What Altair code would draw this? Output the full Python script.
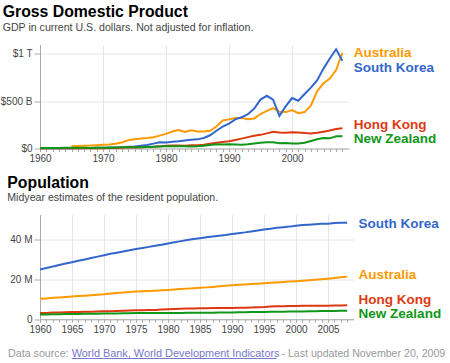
import altair as alt
import pandas as pd

FONT = "Liberation Sans, Arial, Helvetica, sans-serif"

years = list(range(1960, 2009))
countries = ["Australia", "South Korea", "Hong Kong", "New Zealand"]
colors = ["#ff9900", "#3366cc", "#dc3912", "#109618"]

# GDP, billions of current US$
gdp_australia = [None, None, None, None, None,
                 24, 26, 29, 31, 35, 39, 43, 50, 63, 88, 97, 106, 110, 120, 136,
                 155, 180, 195, 176, 192, 179, 180, 188, 232, 296, 308, 322, 322, 309, 318,
                 365, 398, 428, 390, 385, 407, 373, 385, 455, 608, 690, 740, 830, 1013]
gdp_korea = [3.9, 2.4, 2.8, 3.9, 3.5, 3.1, 3.8, 4.7, 5.9, 7.5, 8.9, 9.8, 10.7, 13.7, 19.2,
             21.4, 29.0, 37.6, 51.4, 64.8, 63.7, 71.0, 76.2, 84.9, 93.2, 96.6, 111.3, 140.0,
             187.4, 230.7, 263.8, 308.2, 329.9, 362.1, 423.4, 517.1, 557.6, 516.3, 345.4,
             445.4, 533.4, 504.6, 575.9, 643.8, 722.0, 844.9, 951.8, 1049.2, 929.1]
gdp_hongkong = [1.3, 1.4, 1.6, 1.8, 2.0, 2.3, 2.5, 2.6, 2.7, 3.2, 3.8, 4.5, 5.7, 8.0, 9.3,
                10.0, 12.9, 15.7, 18.3, 22.5, 28.9, 31.0, 32.3, 29.9, 33.5, 35.0, 40.6, 50.6,
                59.7, 68.8, 76.9, 88.9, 104.3, 120.4, 135.8, 144.2, 159.7, 177.4, 168.9,
                165.8, 171.7, 169.4, 163.8, 158.6, 166.0, 177.8, 190.0, 207.1, 215.4]
gdp_newzealand = [5.5, 5.8, 6.0, 6.4, 6.9, 7.3, 7.8, 7.4, 6.3, 6.8, 6.9, 8.1, 9.6, 12.2, 13.7,
                  13.9, 13.7, 15.4, 18.1, 20.3, 23.3, 24.2, 24.0, 23.2, 22.4, 24.4, 28.1, 36.0,
                  44.2, 43.5, 45.7, 42.6, 40.6, 44.6, 52.0, 60.1, 66.4, 66.0, 55.0, 57.1,
                  52.6, 53.0, 60.2, 80.1, 98.0, 111.6, 107.6, 130.0, 128.6]

# Population, millions
pop_australia = [10.28, 10.48, 10.74, 10.95, 11.17, 11.39, 11.65, 11.80, 12.01, 12.26,
                 12.51, 12.94, 13.18, 13.38, 13.72, 13.89, 14.03, 14.19, 14.36, 14.52,
                 14.69, 14.92, 15.18, 15.39, 15.58, 15.79, 16.02, 16.26, 16.53, 16.81,
                 17.07, 17.28, 17.49, 17.67, 17.85, 18.07, 18.31, 18.52, 18.71, 18.93,
                 19.15, 19.41, 19.65, 19.90, 20.13, 20.39, 20.70, 21.07, 21.43]
pop_korea = [25.0, 25.8, 26.5, 27.3, 28.0, 28.7, 29.4, 30.1, 30.8, 31.5,
             32.2, 32.9, 33.5, 34.1, 34.7, 35.3, 35.8, 36.4, 37.0, 37.5,
             38.1, 38.7, 39.3, 39.9, 40.4, 40.8, 41.2, 41.6, 42.0, 42.4,
             42.9, 43.3, 43.7, 44.2, 44.6, 45.1, 45.5, 46.0, 46.3, 46.6,
             47.0, 47.4, 47.6, 47.8, 48.0, 48.1, 48.4, 48.5, 48.6]
pop_hongkong = [3.08, 3.17, 3.31, 3.42, 3.50, 3.60, 3.63, 3.72, 3.80, 3.86,
                3.96, 4.05, 4.12, 4.24, 4.38, 4.46, 4.52, 4.58, 4.67, 4.93,
                5.06, 5.18, 5.26, 5.34, 5.40, 5.46, 5.52, 5.58, 5.63, 5.69,
                5.70, 5.75, 5.80, 5.90, 6.04, 6.16, 6.44, 6.49, 6.54, 6.61,
                6.67, 6.71, 6.74, 6.73, 6.78, 6.81, 6.86, 6.93, 6.98]
pop_newzealand = [2.37, 2.42, 2.49, 2.54, 2.59, 2.63, 2.68, 2.73, 2.75, 2.78,
                  2.81, 2.85, 2.91, 2.97, 3.04, 3.08, 3.11, 3.11, 3.11, 3.11,
                  3.11, 3.12, 3.16, 3.20, 3.23, 3.25, 3.25, 3.27, 3.32, 3.33,
                  3.33, 3.48, 3.53, 3.57, 3.62, 3.67, 3.73, 3.78, 3.81, 3.84,
                  3.86, 3.88, 3.95, 4.03, 4.09, 4.13, 4.18, 4.23, 4.27]

gdp_ticks = [0, 500, 1000]
pop_ticks = [0, 20, 40]

def long_df(series):
    rows = []
    for name, vals in zip(countries, series):
        for y, v in zip(years, vals):
            if v is not None:
                rows.append({"year": y, "country": name, "value": v})
    return pd.DataFrame(rows)

gdp_df = long_df([gdp_australia, gdp_korea, gdp_hongkong, gdp_newzealand])
pop_df = long_df([pop_australia, pop_korea, pop_hongkong, pop_newzealand])

color_scale = alt.Scale(domain=countries, range=colors)
GRID = "#e6e6e6"
AXC = "#aaaaaa"
LAB = "#444444"
TICKFS = 10
LABELFS = 13.5
TITLEFS = 15.8


def panel(df, width, height, ymax, yticks, ylabel_expr, grid_step, title, subtitle,
          title_dx, title_y, sub_y, nudges, extra=None):
    x = alt.X("year:Q", scale=alt.Scale(domain=[1960, 2009], nice=False, zero=False),
              axis=alt.Axis(values=years, title=None, format="d",
                            labelExpr=f"datum.value % {grid_step} === 0 ? datum.label : ''",
                            labelOverlap=False, labelFlush=False,
                            gridOpacity={"condition": {"test": f"datum.value % {grid_step} === 0 && datum.value > 1960", "value": 1}, "value": 0},
                            grid=True, gridColor=GRID, tickSize=3, tickColor=AXC,
                            domainColor=AXC, labelFontSize=TICKFS, labelColor=LAB,
                            labelPadding=2, labelFont=FONT))
    y = alt.Y("value:Q", scale=alt.Scale(domain=[0, ymax], nice=False),
              axis=alt.Axis(values=yticks, title=None, labelExpr=ylabel_expr,
                            grid=True, gridColor=GRID, tickSize=6, tickColor=AXC,
                            domainColor=AXC, labelFontSize=TICKFS, labelColor=LAB,
                            labelPadding=2, labelFont=FONT, minExtent=40, maxExtent=40))
    base = alt.Chart(df)
    lines = base.mark_line(strokeWidth=2, clip=False).encode(
        x=x, y=y,
        color=alt.Color("country:N", scale=color_scale, legend=None),
        detail="country:N",
    )
    layers = [lines]
    for name, col in zip(countries, colors):
        last = df[df.country == name].tail(1)
        layers.append(
            alt.Chart(last).mark_text(align="left", baseline="middle", dy=nudges[name],
                                      font=FONT, fontSize=LABELFS, fontWeight="bold", color=col)
            .encode(x=alt.value(width + 5), y=alt.Y("value:Q"), text="country:N")
        )
    layers.append(
        alt.Chart(pd.DataFrame({"t": [title]})).mark_text(
            align="left", baseline="alphabetic", font=FONT, fontSize=TITLEFS,
            fontWeight="bold", color="#000000")
        .encode(x=alt.value(title_dx), y=alt.value(title_y), text="t:N")
    )
    layers.append(
        alt.Chart(pd.DataFrame({"t": [subtitle]})).mark_text(
            align="left", baseline="alphabetic", font=FONT, fontSize=10.6, color="#444444")
        .encode(x=alt.value(title_dx), y=alt.value(sub_y), text="t:N")
    )
    if extra:
        layers.extend(extra)
    return alt.layer(*layers).properties(width=width, height=height)


gdp_labels = "datum.value === 0 ? '$0' : datum.value === 500 ? '$500 B' : '$1 T'"
pop_labels = "datum.value === 0 ? '0' : datum.label + ' M'"

# footer pieces
FOOT_Y = 142
footer = [
    alt.Chart(pd.DataFrame({"t": ["Data source:"]})).mark_text(
        align="left", baseline="alphabetic", font=FONT, fontSize=10.7, color="#999999")
    .encode(x=alt.value(-32), y=alt.value(FOOT_Y), text="t:N"),
    alt.Chart(pd.DataFrame({"t": ["World Bank, World Development Indicators"]})).mark_text(
        align="left", baseline="alphabetic", font=FONT, fontSize=10.9, color="#7777cc")
    .encode(x=alt.value(31.7), y=alt.value(FOOT_Y), text="t:N"),
    alt.Chart(pd.DataFrame({"t": ["- Last updated November 20, 2009"]})).mark_text(
        align="left", baseline="alphabetic", font=FONT, fontSize=10.6, color="#999999")
    .encode(x=alt.value(241.5), y=alt.value(FOOT_Y), text="t:N"),
    alt.Chart(pd.DataFrame({"t": ["u"]})).mark_rule(color="#7777cc", strokeWidth=1)
    .encode(x=alt.value(31.7), x2=alt.value(236.7), y=alt.value(FOOT_Y + 2)),
]

top = panel(gdp_df, 308.7, 104, 1100, gdp_ticks, gdp_labels, 10,
            "Gross Domestic Product", "GDP in current U.S. dollars. Not adjusted for inflation.",
            -37.3, -27.7, -13.7,
            {"Australia": 0, "South Korea": 7, "Hong Kong": -3.5, "New Zealand": 2.5})
bottom = panel(pop_df, 313.6, 104.7, 52.7, pop_ticks, pop_labels, 5,
               "Population", "Midyear estimates of the resident population.",
               -32.7, -26.3, -13.3,
               {"Australia": -1.4, "South Korea": 1, "Hong Kong": -5.5, "New Zealand": 3.5},
               extra=footer)

chart = alt.vconcat(top, bottom, spacing=11).properties(
    padding={"left": 0, "top": 3.5, "right": 0, "bottom": 0},
    background="white",
).configure_view(stroke=None).configure_axis(labelFont=FONT)

chart.save("out.html", embed_options={"renderer": "svg", "actions": False})
